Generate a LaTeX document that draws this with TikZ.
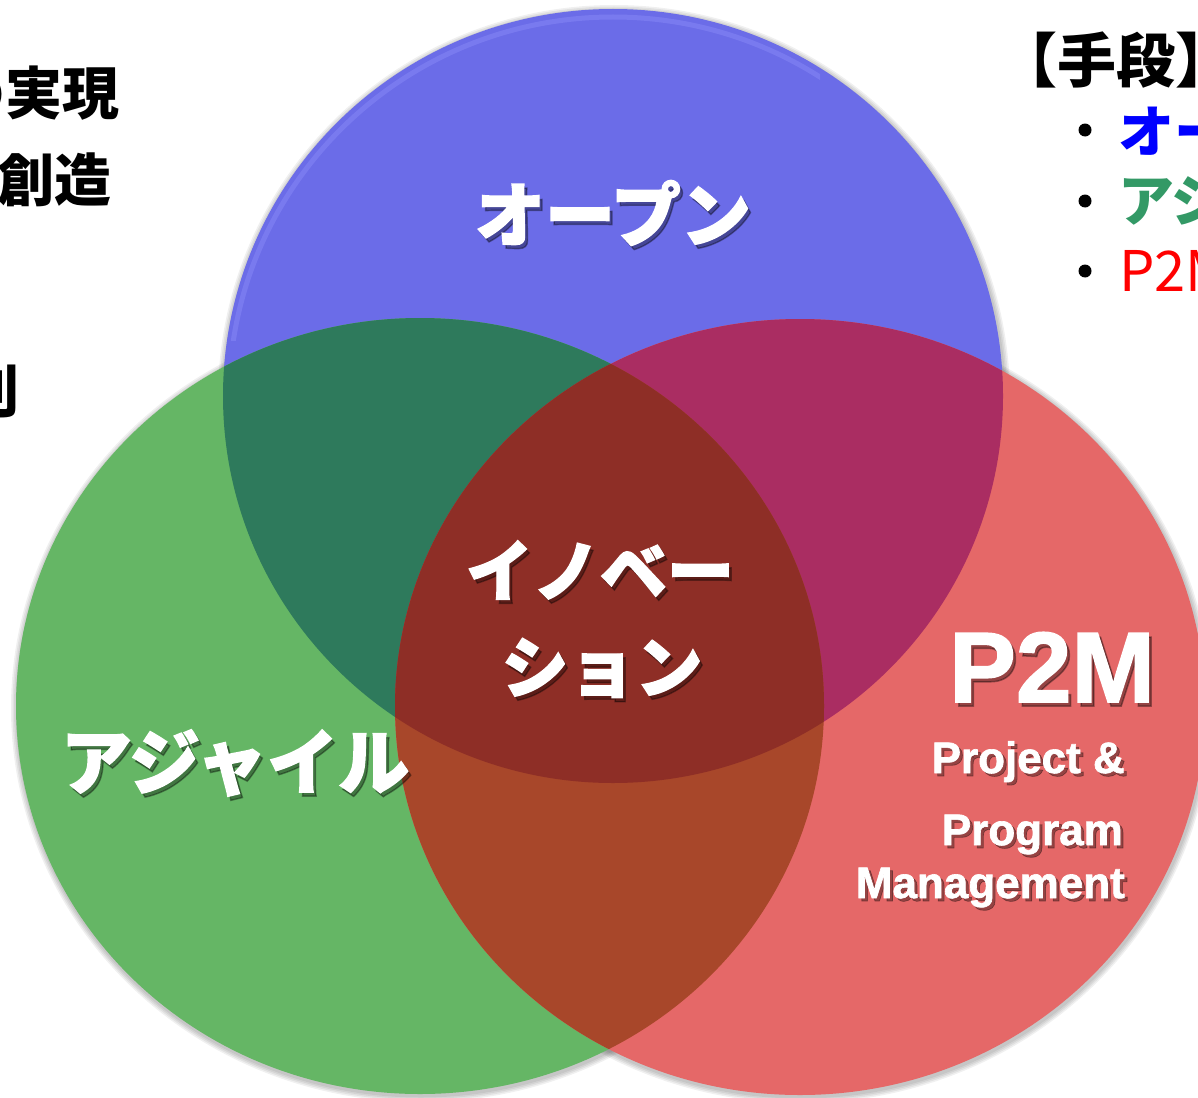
\documentclass[tikz,border=0pt]{standalone}
\usepackage{fontspec}
\setmainfont{Liberation Sans}
\newfontfamily\cjk{Noto Sans CJK JP}
\newfontfamily\cjkheavy{Noto Sans CJK JP}[BoldFeatures={FakeBold=2}]
\newfontfamily\enheavy{Liberation Sans}[BoldFeatures={FakeBold=1.5}]
\definecolor{cblue}{HTML}{6B6CE8}
\definecolor{cgreen}{HTML}{65B665}
\definecolor{cred}{HTML}{E56868}
\definecolor{cbg}{HTML}{2E7A5C}
\definecolor{cbr}{HTML}{AA2D62}
\definecolor{cgr}{HTML}{A8472A}
\definecolor{call}{HTML}{8E2E26}
\definecolor{hiblue}{HTML}{8C8CF8}
\definecolor{tgreen}{HTML}{339966}
\def\Bpath{(613,396) ellipse [x radius=390pt, y radius=387pt]}
\def\Gpath{(420,706) ellipse [x radius=404pt, y radius=388pt]}
\def\Rpath{(800,707) ellipse [x radius=405pt, y radius=388pt]}
\tikzset{
  wlabel/.style={inner sep=0pt, text=white},
  wshadow/.style={inner sep=0pt, text=black, opacity=0.35},
  jpbold/.style={font=\cjk\bfseries\fontsize{#1}{#1}\selectfont},
  jpheavy/.style={font=\cjkheavy\bfseries\fontsize{#1}{#1}\selectfont},
  enbold/.style={font=\enheavy\bfseries\fontsize{#1}{#1}\selectfont},
  dark/.style={inner sep=0pt, text=black},
  bulletdot/.style={circle, fill=black, inner sep=0pt, minimum size=13pt},
}
\begin{document}
\begin{tikzpicture}[x=1pt,y=-1pt]
\useasboundingbox (0,0) rectangle (1198,1097);
\fill[white] (0,0) rectangle (1198,1097);
\clip (0,0) rectangle (1198,1097);
% soft shadows
\foreach \k in {1,2,3,4} {
  \fill[black, opacity=0.06] (614,398) ellipse [x radius=390pt+\k*1.5pt, y radius=387pt+\k*1.5pt];
  \fill[black, opacity=0.06] (421,708) ellipse [x radius=404pt+\k*1.5pt, y radius=388pt+\k*1.5pt];
  \fill[black, opacity=0.06] (801,709) ellipse [x radius=405pt+\k*1.5pt, y radius=388pt+\k*1.5pt];
}
% base circles
\fill[cblue] \Bpath;
\begin{scope}
  \clip \Bpath;
  \clip (0,0) rectangle (820,340);
  \draw[hiblue, line width=5pt, opacity=0.45] (613,398) ellipse [x radius=384pt, y radius=381pt];
\end{scope}
\fill[cgreen] \Gpath;
\fill[cred] \Rpath;
% intersections
\begin{scope}
  \clip \Bpath;
  \fill[cbg] \Gpath;
\end{scope}
\begin{scope}
  \clip \Bpath;
  \fill[cbr] \Rpath;
\end{scope}
\begin{scope}
  \clip \Gpath;
  \fill[cgr] \Rpath;
\end{scope}
\begin{scope}
  \clip \Bpath;
  \clip \Gpath;
  \fill[call] \Rpath;
\end{scope}
% white labels with shadows
\node[wshadow, jpheavy=70] (open-s) at (616,217) {オープン};
\node[wlabel, jpheavy=70] (open) at (613,213) {オープン};
\node[wshadow, jpheavy=67] (inno1-s) at (603,574) {イノベー};
\node[wlabel, jpheavy=67] (inno1) at (600,570) {イノベー};
\node[wshadow, jpheavy=67] (inno2-s) at (605,672) {ション};
\node[wlabel, jpheavy=67] (inno2) at (602,668) {ション};
\node[wshadow, jpheavy=71] (agile-s) at (238,767) {アジャイル};
\node[wlabel, jpheavy=71] (agile) at (235,763) {アジャイル};
\node[wshadow, enbold=100, anchor=base] (p2m-s) at (1055,706) {P2M};
\node[wlabel, enbold=100, anchor=base] (p2m) at (1052,702) {P2M};
\node[wshadow, enbold=44, anchor=base east] (proj-s) at (1128,776) {Project \&};
\node[wlabel, enbold=44, anchor=base east] (proj) at (1125,773) {Project \&};
\node[wshadow, enbold=44, anchor=base east] (prog-s) at (1126,848) {Program};
\node[wlabel, enbold=44, anchor=base east] (prog) at (1123,845) {Program};
\node[wshadow, enbold=44, anchor=base east] (mgmt-s) at (1128,901) {Management};
\node[wlabel, enbold=44, anchor=base east] (mgmt) at (1125,898) {Management};
% left text (cut by the edge)
\node[dark, jpbold=57, anchor=east] (left1) at (120,93) {の実現};
\node[dark, jpbold=57, anchor=east] (left2) at (112,180) {創造};
\node[dark, jpbold=57, anchor=east] (left3) at (20,392) {則};
% right text (cut by the edge)
\node[dark, jpbold=59, anchor=west] (head) at (998,60) {【手段】};
\node[bulletdot] (d1) at (1085,130) {};
\node[bulletdot] (d2) at (1085,201) {};
\node[bulletdot] (d3) at (1085,271) {};
\node[inner sep=0pt, text=blue, jpbold=56, anchor=west] (b1) at (1118,130) {オープン};
\node[inner sep=0pt, text=tgreen, jpbold=56, anchor=west] (b2) at (1118,201) {アジャイル};
\node[inner sep=0pt, text=red, font=\cjk\fontsize{56}{56}\selectfont, anchor=west] (b3) at (1119,271) {P2M};
\end{tikzpicture}
\end{document}
